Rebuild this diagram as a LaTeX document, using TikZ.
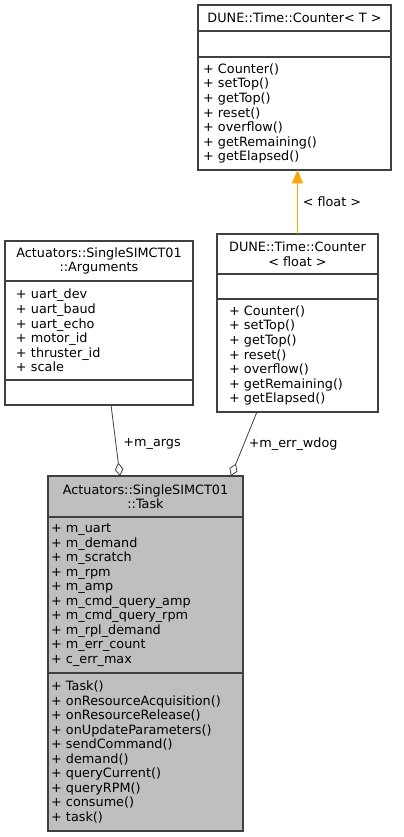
\documentclass[tikz,border=0pt]{standalone}
\usepackage{fontspec}
\setmainfont{DejaVu Sans}
\usetikzlibrary{positioning,arrows.meta,calc}
\definecolor{umlline}{HTML}{404040}
\definecolor{umlfocus}{HTML}{BFBFBF}
\definecolor{umlorange}{HTML}{FFA500}

\begin{document}
\begin{tikzpicture}[x=0.75pt,y=-0.75pt,
  cell/.style={draw=umlline,line width=0.8pt,outer sep=0pt,inner ysep=2pt,font=\fontsize{9.6pt}{10.9pt}\selectfont,align=left},
  head/.style={cell,align=center},
  focus/.style={fill=umlfocus},
  part/.style={-{Diamond[open,length=10pt,width=6.5pt]},umlline,line width=0.6pt},
  tmpl/.style={-{Triangle[length=10pt,width=8pt]},draw=umlorange,fill=umlorange,line width=1.2pt},
  lbl/.style={text=black,font=\fontsize{9.6pt}{10.9pt}\selectfont}
]
\useasboundingbox (0,0) rectangle (403,837);
\node[head,anchor=north,minimum width=144.75pt,minimum height=19.5pt] (ctT) at (294.5,5) {DUNE::Time::Counter< T >};
\node[cell,below=0pt of ctT,minimum width=144.75pt,minimum height=19.5pt] (ctA) {};
\node[cell,below=0pt of ctA,minimum height=84.75pt,inner xsep=3.75pt,text width=137.25pt] (ctM) {+ Counter()\\+ setTop()\\+ getTop()\\+ reset()\\+ overflow()\\+ getRemaining()\\+ getElapsed()};

\node[head,anchor=north,minimum width=120.75pt,minimum height=30pt] (cfT) at (297.5,234) {DUNE::Time::Counter\\< float >};
\node[cell,below=0pt of cfT,minimum width=120.75pt,minimum height=18.75pt] (cfA) {};
\node[cell,below=0pt of cfA,minimum height=84.75pt,inner xsep=9pt,text width=102.75pt] (cfM) {+ Counter()\\+ setTop()\\+ getTop()\\+ reset()\\+ overflow()\\+ getRemaining()\\+ getElapsed()};

\node[head,anchor=north,minimum width=141pt,minimum height=30pt] (argT) at (99,241) {Actuators::SingleSIMCT01\\::Arguments};
\node[cell,below=0pt of argT,minimum height=74.25pt,inner xsep=8.25pt,text width=124.5pt] (argA) {+ uart\_dev\\+ uart\_baud\\+ uart\_echo\\+ motor\_id\\+ thruster\_id\\+ scale};
\node[cell,below=0pt of argA,minimum width=141pt,minimum height=18.75pt] (argM) {};

\node[head,focus,anchor=north,minimum width=146.25pt,minimum height=30.75pt] (taskT) at (145.5,476) {Actuators::SingleSIMCT01\\::Task};
\node[cell,focus,below=0pt of taskT,minimum height=117pt,inner xsep=2.25pt,text width=141.75pt] (taskA) {+ m\_uart\\+ m\_demand\\+ m\_scratch\\+ m\_rpm\\+ m\_amp\\+ m\_cmd\_query\_amp\\+ m\_cmd\_query\_rpm\\+ m\_rpl\_demand\\+ m\_err\_count\\+ c\_err\_max};
\node[cell,focus,below=0pt of taskA,minimum height=118.5pt,inner xsep=2.25pt,text width=141.75pt] (taskM) {+ Task()\\+ onResourceAcquisition()\\+ onResourceRelease()\\+ onUpdateParameters()\\+ sendCommand()\\+ demand()\\+ queryCurrent()\\+ queryRPM()\\+ consume()\\+ task()};

\draw[tmpl] (cfT.north) -- node[lbl,right] {< float >} (cfT.north |- ctM.south);
\draw[part] ($(argM.south west)!0.564!(argM.south east)$) -- node[lbl,anchor=west,pos=0.55,xshift=2pt] {+m\_args} ($(taskT.north west)!0.369!(taskT.north east)$);
\draw[part] ($(cfM.south west)!0.248!(cfM.south east)$) -- node[lbl,anchor=west,pos=0.5] {+m\_err\_wdog} ($(taskT.north west)!0.938!(taskT.north east)$);
\end{tikzpicture}
\end{document}
